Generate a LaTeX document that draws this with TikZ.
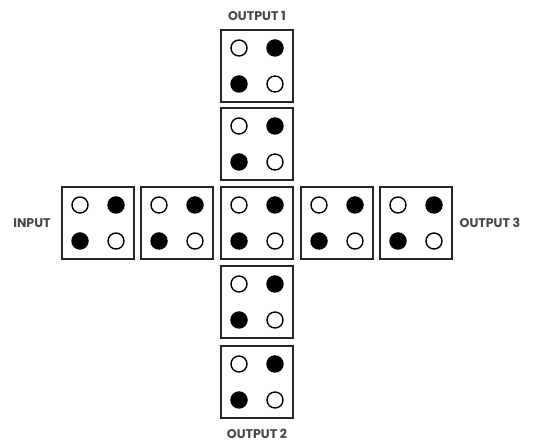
\documentclass[tikz,border=0pt]{standalone}
\usepackage{fontspec}
\setmainfont{Poppins}
\usetikzlibrary{calc}
\newcommand{\cellbox}[3]{%
  \node[cell] (#1) at (#2,#3) {};
  \node[wdot] (#1-a) at ($(#1)+(-18,-18)$) {};
  \node[bdot] (#1-b) at ($(#1)+(18,-18)$) {};
  \node[bdot] (#1-c) at ($(#1)+(-18,18)$) {};
  \node[wdot] (#1-d) at ($(#1)+(18,18)$) {};}
\begin{document}
\begin{tikzpicture}[x=1pt,y=-1pt,
  cell/.style={draw=black!85,line width=1.3pt,minimum size=72pt,inner sep=0pt},
  wdot/.style={circle,draw=black,line width=1.4pt,fill=white,minimum size=16pt,inner sep=0pt},
  bdot/.style={circle,fill=black,minimum size=17.5pt,inner sep=0pt},
  lbl/.style={font=\fontsize{12.6}{14}\selectfont\bfseries,text=black!72,inner sep=0pt}]
\useasboundingbox (0,0) rectangle (539,446);
\cellbox{h1}{98}{223}
\cellbox{h2}{177}{223}
\cellbox{c}{257}{223}
\cellbox{h4}{337}{223}
\cellbox{h5}{416}{223}
\cellbox{v1}{257}{66}
\cellbox{v2}{257}{144}
\cellbox{v4}{257}{302}
\cellbox{v5}{257}{382}
\node[lbl] (in) at (32,223) {INPUT};
\node[lbl] (o1) at (257,16) {OUTPUT 1};
\node[lbl] (o2) at (257,434) {OUTPUT 2};
\node[lbl] (o3) at (490,223) {OUTPUT 3};
\end{tikzpicture}
\end{document}
